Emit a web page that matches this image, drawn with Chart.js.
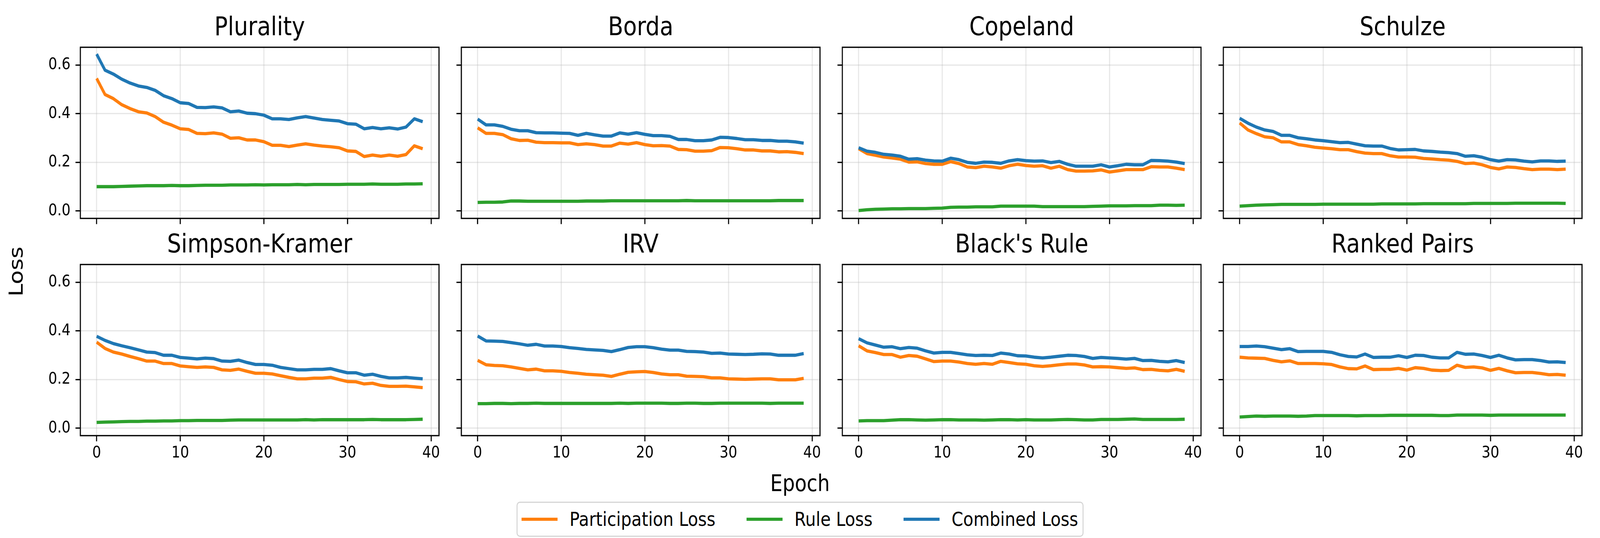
<!DOCTYPE html>
<html>
<head>
<meta charset="utf-8">
<title>Loss curves per voting rule</title>
<script src="https://cdn.jsdelivr.net/npm/chart.js@4.4.1/dist/chart.umd.min.js"></script>
<style>
  html, body { margin: 0; padding: 0; background: #fff; overflow: hidden; }
  body { font-family: "DejaVu Sans", sans-serif; color: #000; }
  #stage { position: absolute; left: 0; top: 0; width: 4800px; height: 1377px;
           transform-origin: 0 0; overflow: hidden; background: #fff; }
  canvas { position: absolute; }
  #ylabel { position: absolute; left: 49px; top: 695px; font-size: 58.3px; line-height: 1.164;
            white-space: nowrap; transform: translate(-50%, -50%) rotate(-90deg); }
  #xlabel { position: absolute; left: 2400px; top: 1204px; font-size: 58.3px; line-height: 1.164;
            white-space: nowrap; transform: translateX(-50%); }
  #legend { position: absolute; left: 2400px; top: 1284px; height: 90px; box-sizing: border-box;
            transform: translateX(-50%); border: 3px solid #d5d5d5; border-radius: 10px;
            display: flex; align-items: center; padding: 0 13px 0 12px;
            font-size: 50px; line-height: 1.164; white-space: nowrap; }
  .item { display: flex; align-items: center; }
  .item + .item { margin-left: 93px; }
  .swatch { width: 108px; height: 8.3px; margin-right: 36px; }
</style>
</head>
<body>
<div id="stage">
<div id="ylabel">Loss</div>
<div id="xlabel">Epoch</div>
<div id="legend"></div>
</div>
<script>
const epochs = [0, 1, 2, 3, 4, 5, 6, 7, 8, 9, 10, 11, 12, 13, 14, 15, 16, 17, 18, 19,
  20, 21, 22, 23, 24, 25, 26, 27, 28, 29, 30, 31, 32, 33, 34, 35, 36, 37, 38, 39];
const xTicks = [0, 10, 20, 30, 40];
const yTicks = [0, 0.2, 0.4, 0.6];

const ruleNames = ["Plurality", "Borda", "Copeland", "Schulze",
  "Simpson-Kramer", "IRV", "Black's Rule", "Ranked Pairs"];
const seriesNames = ["Participation Loss", "Rule Loss", "Combined Loss"];
const seriesColors = ["#ff7f0e", "#2ca02c", "#1f77b4"];

const pluralityPart = [0.545, 0.479, 0.462, 0.437, 0.421, 0.408, 0.403, 0.388, 0.365, 0.353, 0.338, 0.335, 0.319, 0.318, 0.321, 0.316, 0.299, 0.301, 0.292, 0.292, 0.285, 0.270, 0.270, 0.265, 0.271, 0.276, 0.271, 0.267, 0.264, 0.260, 0.247, 0.245, 0.224, 0.230, 0.225, 0.230, 0.225, 0.232, 0.268, 0.256];
const pluralityRule = [0.100, 0.100, 0.100, 0.101, 0.102, 0.103, 0.104, 0.104, 0.104, 0.105, 0.104, 0.104, 0.105, 0.106, 0.106, 0.106, 0.107, 0.107, 0.107, 0.108, 0.107, 0.108, 0.108, 0.108, 0.109, 0.108, 0.109, 0.109, 0.109, 0.109, 0.110, 0.110, 0.110, 0.111, 0.110, 0.110, 0.110, 0.111, 0.111, 0.112];
const pluralityComb = [0.645, 0.579, 0.563, 0.542, 0.526, 0.514, 0.508, 0.496, 0.474, 0.462, 0.445, 0.442, 0.426, 0.425, 0.428, 0.424, 0.408, 0.411, 0.402, 0.400, 0.394, 0.379, 0.379, 0.376, 0.383, 0.388, 0.382, 0.376, 0.373, 0.370, 0.359, 0.357, 0.338, 0.343, 0.338, 0.342, 0.337, 0.345, 0.379, 0.367];

const bordaPart = [0.342, 0.319, 0.319, 0.314, 0.297, 0.290, 0.291, 0.283, 0.281, 0.281, 0.280, 0.280, 0.273, 0.276, 0.273, 0.267, 0.267, 0.279, 0.275, 0.281, 0.273, 0.268, 0.269, 0.267, 0.253, 0.252, 0.246, 0.246, 0.248, 0.261, 0.260, 0.256, 0.251, 0.251, 0.247, 0.247, 0.243, 0.244, 0.241, 0.236];
const bordaRule = [0.035, 0.036, 0.036, 0.037, 0.041, 0.041, 0.040, 0.040, 0.040, 0.040, 0.040, 0.040, 0.040, 0.041, 0.041, 0.041, 0.042, 0.042, 0.042, 0.042, 0.042, 0.042, 0.042, 0.042, 0.042, 0.043, 0.042, 0.042, 0.042, 0.042, 0.042, 0.042, 0.042, 0.042, 0.042, 0.042, 0.043, 0.043, 0.043, 0.043];
const bordaComb = [0.378, 0.354, 0.354, 0.348, 0.336, 0.330, 0.330, 0.322, 0.321, 0.321, 0.320, 0.319, 0.311, 0.319, 0.313, 0.308, 0.308, 0.321, 0.316, 0.322, 0.315, 0.310, 0.310, 0.307, 0.294, 0.294, 0.289, 0.289, 0.292, 0.303, 0.302, 0.298, 0.293, 0.293, 0.290, 0.290, 0.287, 0.287, 0.284, 0.279];

const copelandPart = [0.256, 0.236, 0.229, 0.222, 0.218, 0.213, 0.201, 0.202, 0.195, 0.192, 0.192, 0.203, 0.195, 0.181, 0.178, 0.184, 0.181, 0.176, 0.186, 0.192, 0.187, 0.184, 0.186, 0.176, 0.184, 0.170, 0.164, 0.164, 0.165, 0.169, 0.160, 0.165, 0.170, 0.170, 0.170, 0.182, 0.181, 0.181, 0.176, 0.170];
const copelandRule = [0.002, 0.005, 0.007, 0.008, 0.009, 0.009, 0.010, 0.010, 0.010, 0.011, 0.012, 0.015, 0.016, 0.016, 0.017, 0.017, 0.017, 0.020, 0.020, 0.020, 0.020, 0.020, 0.018, 0.018, 0.018, 0.018, 0.018, 0.018, 0.019, 0.020, 0.021, 0.021, 0.021, 0.022, 0.022, 0.022, 0.024, 0.024, 0.023, 0.024];
const copelandComb = [0.260, 0.246, 0.241, 0.233, 0.230, 0.225, 0.213, 0.215, 0.209, 0.206, 0.205, 0.217, 0.211, 0.200, 0.196, 0.201, 0.200, 0.196, 0.206, 0.211, 0.207, 0.205, 0.206, 0.199, 0.204, 0.192, 0.184, 0.184, 0.184, 0.190, 0.181, 0.186, 0.192, 0.190, 0.190, 0.208, 0.207, 0.205, 0.201, 0.195];

const schulzePart = [0.362, 0.333, 0.318, 0.305, 0.301, 0.284, 0.284, 0.273, 0.268, 0.262, 0.259, 0.256, 0.252, 0.252, 0.244, 0.238, 0.236, 0.236, 0.227, 0.222, 0.222, 0.221, 0.216, 0.214, 0.211, 0.209, 0.204, 0.195, 0.197, 0.190, 0.179, 0.173, 0.181, 0.179, 0.174, 0.170, 0.172, 0.172, 0.170, 0.172];
const schulzeRule = [0.020, 0.022, 0.024, 0.025, 0.026, 0.027, 0.027, 0.027, 0.027, 0.027, 0.028, 0.028, 0.028, 0.028, 0.028, 0.028, 0.028, 0.029, 0.029, 0.029, 0.029, 0.029, 0.030, 0.030, 0.030, 0.030, 0.030, 0.030, 0.031, 0.031, 0.031, 0.031, 0.031, 0.032, 0.032, 0.032, 0.032, 0.032, 0.032, 0.031];
const schulzeComb = [0.381, 0.361, 0.345, 0.333, 0.327, 0.311, 0.311, 0.301, 0.297, 0.292, 0.289, 0.285, 0.281, 0.282, 0.275, 0.268, 0.267, 0.267, 0.257, 0.251, 0.252, 0.253, 0.247, 0.245, 0.242, 0.240, 0.236, 0.225, 0.227, 0.221, 0.211, 0.205, 0.211, 0.210, 0.205, 0.202, 0.206, 0.206, 0.204, 0.205];

const simpsonPart = [0.354, 0.328, 0.313, 0.305, 0.295, 0.286, 0.276, 0.276, 0.266, 0.266, 0.256, 0.253, 0.250, 0.252, 0.250, 0.240, 0.238, 0.243, 0.234, 0.226, 0.226, 0.223, 0.216, 0.209, 0.203, 0.203, 0.206, 0.206, 0.209, 0.200, 0.192, 0.191, 0.182, 0.185, 0.176, 0.172, 0.172, 0.173, 0.170, 0.167];
const simpsonRule = [0.024, 0.025, 0.026, 0.027, 0.028, 0.028, 0.029, 0.029, 0.030, 0.030, 0.031, 0.031, 0.032, 0.032, 0.032, 0.032, 0.033, 0.034, 0.034, 0.034, 0.034, 0.034, 0.034, 0.034, 0.034, 0.035, 0.034, 0.035, 0.035, 0.035, 0.035, 0.035, 0.035, 0.036, 0.035, 0.035, 0.035, 0.035, 0.036, 0.037];
const simpsonComb = [0.378, 0.361, 0.348, 0.339, 0.331, 0.322, 0.313, 0.311, 0.300, 0.300, 0.291, 0.288, 0.285, 0.288, 0.286, 0.276, 0.275, 0.280, 0.270, 0.262, 0.262, 0.259, 0.250, 0.245, 0.240, 0.240, 0.242, 0.242, 0.245, 0.236, 0.228, 0.228, 0.218, 0.222, 0.213, 0.207, 0.207, 0.209, 0.206, 0.203];

const irvPart = [0.279, 0.261, 0.258, 0.257, 0.252, 0.246, 0.240, 0.243, 0.236, 0.236, 0.234, 0.229, 0.226, 0.222, 0.220, 0.218, 0.213, 0.222, 0.230, 0.232, 0.233, 0.229, 0.223, 0.220, 0.220, 0.214, 0.213, 0.212, 0.207, 0.207, 0.203, 0.202, 0.201, 0.202, 0.203, 0.203, 0.199, 0.199, 0.199, 0.205];
const irvRule = [0.101, 0.101, 0.102, 0.102, 0.101, 0.102, 0.102, 0.103, 0.102, 0.102, 0.102, 0.102, 0.102, 0.102, 0.102, 0.102, 0.102, 0.103, 0.102, 0.103, 0.103, 0.103, 0.103, 0.102, 0.102, 0.103, 0.103, 0.102, 0.102, 0.103, 0.103, 0.103, 0.103, 0.103, 0.103, 0.102, 0.103, 0.103, 0.103, 0.103];
const irvComb = [0.379, 0.359, 0.358, 0.357, 0.352, 0.347, 0.341, 0.345, 0.338, 0.338, 0.336, 0.331, 0.328, 0.324, 0.322, 0.320, 0.315, 0.323, 0.332, 0.335, 0.335, 0.331, 0.325, 0.321, 0.321, 0.316, 0.315, 0.313, 0.308, 0.309, 0.305, 0.304, 0.303, 0.304, 0.306, 0.305, 0.300, 0.300, 0.300, 0.307];

const blackPart = [0.339, 0.318, 0.311, 0.303, 0.303, 0.292, 0.299, 0.296, 0.285, 0.274, 0.276, 0.276, 0.272, 0.266, 0.263, 0.266, 0.263, 0.275, 0.270, 0.265, 0.263, 0.257, 0.254, 0.257, 0.261, 0.264, 0.264, 0.260, 0.252, 0.253, 0.252, 0.249, 0.246, 0.248, 0.241, 0.242, 0.238, 0.236, 0.242, 0.234];
const blackRule = [0.030, 0.031, 0.031, 0.031, 0.033, 0.035, 0.035, 0.034, 0.033, 0.034, 0.035, 0.035, 0.034, 0.034, 0.034, 0.033, 0.034, 0.035, 0.035, 0.034, 0.035, 0.034, 0.034, 0.034, 0.035, 0.036, 0.035, 0.034, 0.034, 0.036, 0.036, 0.036, 0.037, 0.038, 0.036, 0.036, 0.036, 0.036, 0.036, 0.037];
const blackComb = [0.368, 0.351, 0.342, 0.333, 0.335, 0.327, 0.332, 0.329, 0.318, 0.309, 0.312, 0.312, 0.307, 0.302, 0.299, 0.300, 0.299, 0.309, 0.305, 0.298, 0.297, 0.292, 0.289, 0.292, 0.296, 0.300, 0.299, 0.295, 0.287, 0.291, 0.289, 0.287, 0.284, 0.287, 0.278, 0.279, 0.275, 0.273, 0.278, 0.270];

const rankedPart = [0.292, 0.289, 0.288, 0.287, 0.279, 0.273, 0.277, 0.266, 0.266, 0.266, 0.265, 0.262, 0.252, 0.245, 0.244, 0.256, 0.241, 0.242, 0.242, 0.246, 0.239, 0.249, 0.246, 0.239, 0.237, 0.238, 0.259, 0.250, 0.252, 0.248, 0.238, 0.246, 0.236, 0.228, 0.229, 0.229, 0.225, 0.220, 0.221, 0.218];
const rankedRule = [0.046, 0.048, 0.050, 0.049, 0.050, 0.050, 0.050, 0.049, 0.050, 0.052, 0.052, 0.052, 0.052, 0.052, 0.051, 0.052, 0.052, 0.052, 0.053, 0.053, 0.053, 0.053, 0.053, 0.053, 0.052, 0.052, 0.054, 0.054, 0.054, 0.054, 0.053, 0.054, 0.054, 0.054, 0.054, 0.054, 0.054, 0.054, 0.054, 0.054];
const rankedComb = [0.336, 0.336, 0.338, 0.335, 0.329, 0.323, 0.327, 0.315, 0.316, 0.316, 0.316, 0.312, 0.302, 0.295, 0.293, 0.305, 0.291, 0.292, 0.292, 0.298, 0.291, 0.300, 0.299, 0.292, 0.289, 0.289, 0.312, 0.304, 0.305, 0.299, 0.291, 0.300, 0.289, 0.281, 0.282, 0.282, 0.278, 0.272, 0.273, 0.270];

const panelSeries = [
  [pluralityPart, pluralityRule, pluralityComb],
  [bordaPart, bordaRule, bordaComb],
  [copelandPart, copelandRule, copelandComb],
  [schulzePart, schulzeRule, schulzeComb],
  [simpsonPart, simpsonRule, simpsonComb],
  [irvPart, irvRule, irvComb],
  [blackPart, blackRule, blackComb],
  [rankedPart, rankedRule, rankedComb],
];

// layout of the 2x4 grid, in stage pixels
const stageW = 4800, stageH = 1377;
const plotW = 1076, plotH = 438;
const colLeft = [241, 1384, 2527, 3670];
const rowTop = [121, 677];
const axisW = 230, titleH = 88, axisH = 80, padRight = 30;

const gridColor = "rgba(176,176,176,0.3)";
const tickFont = { size: 41.7 };

Chart.defaults.font.family = "'DejaVu Sans', sans-serif";
Chart.defaults.color = "#000";

const stage = document.getElementById("stage");

// the viewport is narrower than 4800 css px here, so stretch the stage to fill it
function fitStage() {
  const sx = window.innerWidth / stageW;
  const sy = window.innerHeight / stageH;
  stage.style.transform = "scale(" + sx + "," + sy + ")";
}

// black box around every plot area, drawn over the lines like matplotlib spines
const framePlugin = {
  id: "frame",
  afterDraw(chart) {
    const { ctx, chartArea: a } = chart;
    ctx.save();
    ctx.strokeStyle = "#000";
    ctx.lineWidth = 3.3;
    ctx.strokeRect(a.left, a.top, a.right - a.left, a.bottom - a.top);
    ctx.restore();
  },
};

function renderPanel(i) {
  const col = i % 4, row = Math.floor(i / 4);
  const canvas = document.createElement("canvas");
  canvas.width = axisW + plotW + padRight;
  canvas.height = titleH + plotH + axisH;
  canvas.style.left = colLeft[col] - axisW + "px";
  canvas.style.top = rowTop[row] - titleH + "px";
  stage.appendChild(canvas);

  const titleSize = 66.7;
  new Chart(canvas, {
    type: "line",
    data: {
      labels: epochs,
      datasets: panelSeries[i].map((values, k) => ({
        label: seriesNames[k],
        data: values,
        borderColor: seriesColors[k],
        backgroundColor: seriesColors[k],
        borderWidth: 8.3,
        borderJoinStyle: "round",
        pointRadius: 0,
        tension: 0,
        fill: false,
        order: 2 - k,
      })),
    },
    options: {
      responsive: false,
      animation: false,
      events: [],
      layout: { padding: { left: 0, right: padRight, top: 0, bottom: 0 } },
      plugins: {
        legend: { display: false },
        tooltip: { enabled: false },
        title: {
          display: true,
          fullSize: false,
          text: ruleNames[i],
          color: "#000",
          font: { size: titleSize, weight: "normal", lineHeight: 1.2 },
          padding: { top: 0, bottom: titleH - titleSize * 1.2 },
        },
      },
      scales: {
        x: {
          type: "linear",
          min: -1.95,
          max: 40.95,
          afterBuildTicks: (s) => { s.ticks = xTicks.map((v) => ({ value: v })); },
          afterFit: (s) => { s.height = axisH; },
          ticks: { display: row === 1, font: tickFont, color: "#000", padding: 6,
                   maxRotation: 0, autoSkip: false },
          grid: { color: gridColor, lineWidth: 3.3, tickColor: "#000",
                  tickWidth: 3.3, tickLength: 14.6 },
          border: { display: false },
        },
        y: {
          min: -0.0305,
          max: 0.6731,
          afterBuildTicks: (s) => { s.ticks = yTicks.map((v) => ({ value: v })); },
          afterFit: (s) => { s.width = axisW; },
          ticks: { display: col === 0, font: tickFont, color: "#000", padding: 15,
                   callback: (v) => v.toFixed(1) },
          grid: { color: gridColor, lineWidth: 3.3, tickColor: "#000",
                  tickWidth: 3.3, tickLength: 14.6 },
          border: { display: false },
        },
      },
    },
    plugins: [framePlugin],
  });
}

function renderLegend() {
  const box = document.getElementById("legend");
  seriesNames.forEach((name, k) => {
    const item = document.createElement("div");
    item.className = "item";
    const swatch = document.createElement("span");
    swatch.className = "swatch";
    swatch.style.background = seriesColors[k];
    const label = document.createElement("span");
    label.textContent = name;
    item.appendChild(swatch);
    item.appendChild(label);
    box.appendChild(item);
  });
}

fitStage();
ruleNames.forEach((_, i) => renderPanel(i));
renderLegend();
</script>
</body>
</html>
